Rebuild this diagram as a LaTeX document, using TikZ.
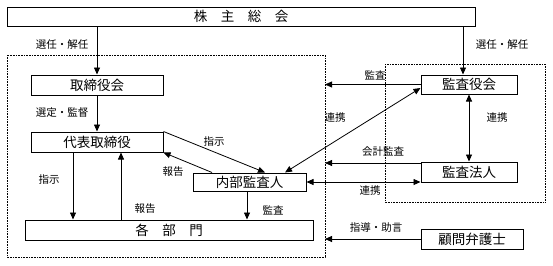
\documentclass[tikz,border=0pt]{standalone}
\usepackage{fontspec}
\setmainfont{Noto Sans CJK JP}
\usetikzlibrary{arrows.meta}

\begin{document}
\begin{tikzpicture}[x=1pt, y=-1pt, >={Triangle[length=7pt,width=6pt]},
  box/.style={draw, line width=1pt, inner sep=0pt, minimum height=20,
    font=\fontsize{13.5}{14}\selectfont},
  lbl/.style={inner sep=0pt, font=\fontsize{10.5}{11}\selectfont},
  zone/.style={densely dotted, line width=0.6pt},
  conn/.style={->, line width=0.8pt}]
  \useasboundingbox (0,0) rectangle (553,265);

  % ----- areas (dotted) -----
  \draw[zone] (7,55) rectangle (325,257);
  \draw[zone] (385,64) rectangle (545,202);
  \coordinate (edge) at (325,0);   % right side of the left area

  % ----- bodies -----
  \node[box, minimum width=468, minimum height=19] (gm) at (241,16.5) {株　主　総　会};
  \node[box, minimum width=132] (board) at (97,85)  {取締役会};
  \node[box, minimum width=132] (rep)   at (97,142) {代表取締役};
  \node[box, minimum width=288] (dept)  at (169,230) {各　部　門};
  \node[box, minimum width=113, minimum height=18] (ia) at (249.5,182) {内部監査人};
  \node[box, minimum width=96, minimum height=19] (kansa) at (469,84.5) {監査役会};
  \node[box, minimum width=96]  (audit)  at (469,172) {監査法人};
  \node[box, minimum width=102] (lawyer) at (472,239) {顧問弁護士};

  % ----- left side -----
  \draw[conn] (gm.south -| board.north) -- (board.north);
  \node[lbl] (l1) at (62,45) {選任・解任};
  \draw[conn] (board.south) -- (rep.north);
  \node[lbl] (l2) at (62,113) {選定・監督};
  \draw[conn] ([xshift=-24]rep.south) -- ([xshift=-24]rep.south |- dept.north);
  \node[lbl] (l3) at (49,180) {指示};
  \draw[conn] ([xshift=24]rep.south |- dept.north) -- ([xshift=24]rep.south);
  \node[lbl] (l4) at (145,209) {報告};
  \draw[conn] (rep.north east) -- ([xshift=15.5]ia.north);
  \node[lbl] (l5) at (214,142) {指示};
  \draw[conn] ([xshift=-37.5]ia.north) -- (rep.south east);
  \node[lbl] (l6) at (173,172) {報告};
  \draw[conn] ([xshift=-2.5]ia.south) -- ([xshift=-2.5]ia.south |- dept.north);
  \node[lbl] (l7) at (273,210) {監査};

  % ----- right side -----
  \coordinate (kin) at ([xshift=-6]kansa.north);
  \draw[conn] (gm.south -| kin) -- (kin);
  \node[lbl] (r1) at (502,45) {選任・解任};
  \draw[conn] (kansa.west) -- (kansa.west -| edge);
  \node[lbl] (r2) at (375,75) {監査};
  \draw[conn, <->] ([xshift=35.5]ia.north) -- ([yshift=-3.5]kansa.west);
  \node[lbl] (r3) at (335,118) {連携};
  \draw[conn, <->] (kansa.south) -- (audit.north);
  \node[lbl] (r4) at (497,118) {連携};
  \draw[conn] ([yshift=-1.5]audit.north west) -- ([yshift=-1.5]audit.north west -| edge);
  \node[lbl] (r5) at (383,152) {会計監査};
  \draw[conn, <->] (ia.east) -- (ia.east -| audit.west);
  \node[lbl] (r6) at (370,191) {連携};
  \draw[conn] (lawyer.west) -- (lawyer.west -| edge);
  \node[lbl] (r7) at (376,228) {指導・助言};
\end{tikzpicture}
\end{document}
